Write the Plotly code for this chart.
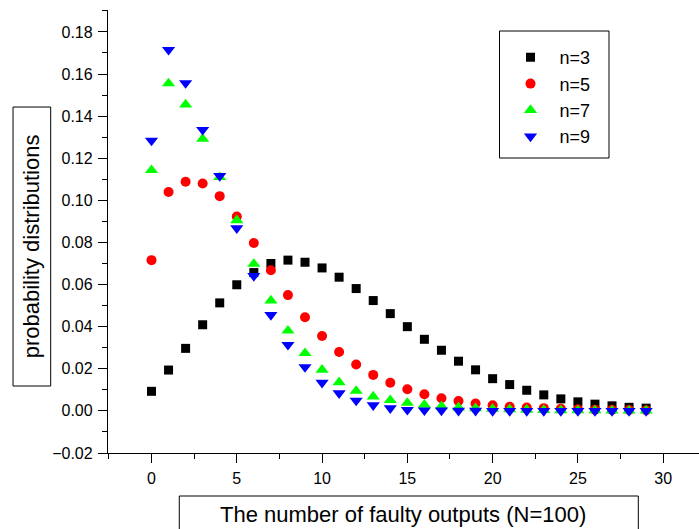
import plotly.graph_objects as go

# Number of faulty outputs (N = 100)
faulty = list(range(30))

# Probability distributions for each n
p_n3 = [0.0093, 0.0194, 0.0297, 0.0409, 0.0513, 0.0599, 0.0657, 0.0700, 0.0716, 0.0706,
        0.0679, 0.0635, 0.0581, 0.0524, 0.0462, 0.0400, 0.0340, 0.0288, 0.0236, 0.0195,
        0.0153, 0.0125, 0.0098, 0.0076, 0.0057, 0.0043, 0.0032, 0.0024, 0.0017, 0.0013]
p_n5 = [0.0716, 0.1040, 0.1088, 0.1080, 0.1020, 0.0923, 0.0797, 0.0668, 0.0550, 0.0445,
        0.0356, 0.0280, 0.0220, 0.0171, 0.0134, 0.0103, 0.0079, 0.0060, 0.0047, 0.0035,
        0.0027, 0.0020, 0.0016, 0.0013, 0.0010, 0.0008, 0.0006, 0.0005, 0.0004, 0.0003]
p_n7 = [0.1143, 0.1555, 0.1455, 0.1292, 0.1110, 0.0905, 0.0698, 0.0524, 0.0381, 0.0274,
        0.0195, 0.0136, 0.0095, 0.0068, 0.0051, 0.0038, 0.0029, 0.0022, 0.0016, 0.0012,
        0.0009, 0.0007, 0.0005, 0.0004, 0.0003, 0.0002, 0.0002, 0.0001, 0.0001, 0.0001]
p_n9 = [0.1284, 0.1715, 0.1557, 0.1335, 0.1116, 0.0868, 0.0641, 0.0456, 0.0314, 0.0208,
        0.0134, 0.0084, 0.0049, 0.0027, 0.0013, 0.0005, 0.0003, 0.0002, 0.0001, 0.0001,
        0.0000, 0.0000, 0.0000, 0.0000, 0.0000, 0.0000, 0.0000, 0.0000, 0.0000, 0.0000]

series = [
    ("n=3", p_n3, "square", "#000000", 9),
    ("n=5", p_n5, "circle", "#ff0000", 10),
    ("n=7", p_n7, "triangle-up", "#00ff00", 11.5),
    ("n=9", p_n9, "triangle-down", "#0000ff", 11.5),
]

FONT = "Arial, 'Liberation Sans', sans-serif"

fig = go.Figure()
for i, (name, vals, sym, col, sz) in enumerate(series):
    fig.add_trace(go.Scatter(
        x=faulty, y=vals, mode="markers", name=name, legendgroup=str(i),
        marker=dict(symbol=sym, color=col, size=sz, line=dict(width=0)),
    ))

axis_common = dict(
    showline=True, linecolor="black", linewidth=1.3, mirror=False,
    showgrid=False, zeroline=False, ticks="outside", ticklen=9, tickwidth=1.3,
    tickcolor="black", tickfont=dict(family=FONT, size=16, color="black"),
    ticklabelstandoff=2,
)

fig.update_xaxes(
    range=[-2.55, 32.1], tickmode="array", tickvals=[0, 5, 10, 15, 20, 25, 30],
    minor=dict(ticks="outside", ticklen=5, tickwidth=1.3, tickcolor="black", dtick=2.5, tick0=0),
    **axis_common,
)
fig.update_yaxes(
    range=[-0.02, 0.1904], dtick=0.02, tick0=0, tickformat=".2f",
    minor=dict(ticks="outside", ticklen=5, tickwidth=1.3, tickcolor="black", dtick=0.01, tick0=0),
    **axis_common,
)

# Framed axis titles
fig.add_shape(type="rect", xref="paper", yref="paper",
              x0=-0.1607, x1=-0.097, y0=0.1512, y1=0.781,
              line=dict(color="black", width=1), fillcolor="white", layer="below")
fig.add_annotation(text="probability distributions", xref="paper", yref="paper",
                   x=-0.129, y=0.466, showarrow=False, textangle=-90,
                   font=dict(family=FONT, size=22, color="black"),
                   xanchor="center", yanchor="middle")

fig.add_shape(type="rect", xref="paper", yref="paper",
              x0=0.1206, x1=0.8973, y0=-0.20, y1=-0.0971,
              line=dict(color="black", width=1), fillcolor="white", layer="below")
fig.add_annotation(text="The number of faulty outputs (N=100)", xref="paper", yref="paper",
                   x=0.4992, y=-0.1377, showarrow=False,
                   font=dict(family=FONT, size=22, color="black"),
                   xanchor="center", yanchor="middle")

# Legend frame
fig.add_shape(type="rect", xref="paper", yref="paper",
              x0=(499.5 - 108) / 591, x1=(609 - 108) / 591,
              y0=(453 - 158) / 443, y1=(453 - 31) / 443,
              line=dict(color="black", width=1), fillcolor="white", layer="below")

fig.update_layout(
    width=699, height=529,
    margin=dict(l=108, r=0, t=10, b=76),
    paper_bgcolor="white", plot_bgcolor="white",
    showlegend=True,
    legend=dict(
        x=(501.5 - 108) / 591, y=(453 - 39) / 443, xanchor="left", yanchor="top",
        borderwidth=0, bgcolor="rgba(0,0,0,0)",
        font=dict(family=FONT, size=18, color="black"),
        traceorder="grouped", tracegroupgap=0, itemwidth=48,
    ),
)

fig.write_html("out.html")
